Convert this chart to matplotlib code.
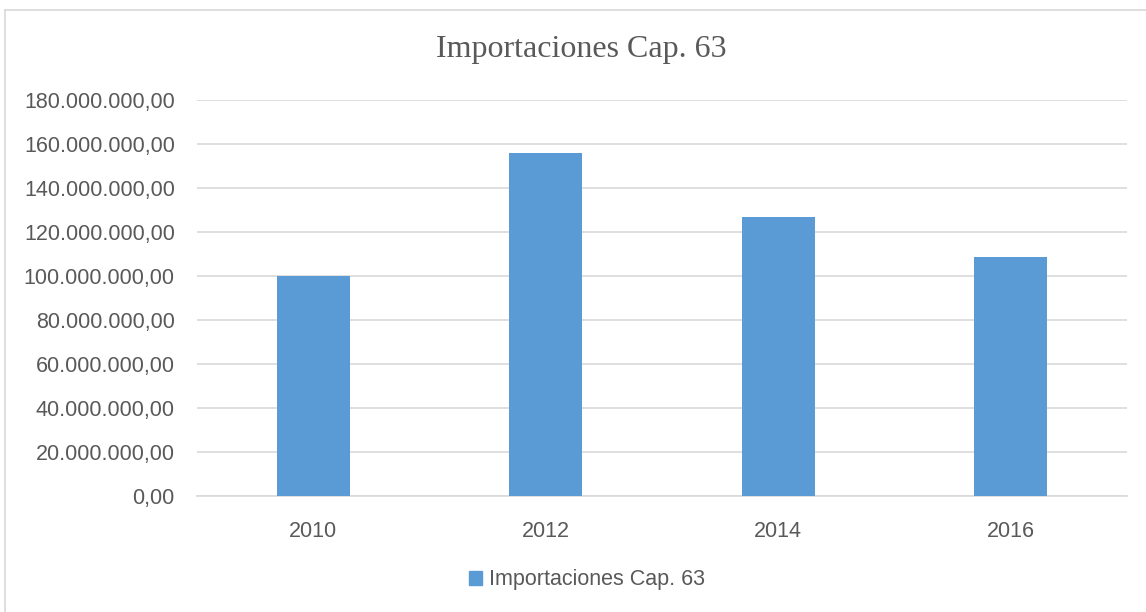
import matplotlib
matplotlib.use("Agg")
import matplotlib.pyplot as plt
from matplotlib.ticker import FuncFormatter
from matplotlib.patches import Rectangle
from matplotlib.lines import Line2D

years = ["2010", "2012", "2014", "2016"]
values = [100200000, 155900000, 126700000, 108600000]
series_name = "Importaciones Cap. 63"
title = "Importaciones Cap. 63"

fig = plt.figure(figsize=(11.46, 6.12), dpi=100)
ax = fig.add_axes([197/1146, 1-496/612, (1127-197)/1146, (496-100)/612])

x = list(range(len(years)))
ax.bar(x, values, width=0.315, color="#5B9BD5", zorder=3, label=series_name)
ax.set_xlim(-0.5, len(years)-0.5)
ax.set_ylim(0, 180000000)
ax.set_yticks([i*20000000 for i in range(10)])

def fmt(v, pos):
    s = f"{v:,.2f}"
    return s.replace(",", "X").replace(".", ",").replace("X", ".")
ax.yaxis.set_major_formatter(FuncFormatter(fmt))
ax.set_xticks(x)
ax.set_xticklabels(years)

ax.grid(axis="y", color="#d9d9d9", linewidth=1.2, zorder=0)
for s in ["top", "right", "left"]:
    ax.spines[s].set_visible(False)
ax.spines["bottom"].set_color("#d9d9d9")
ax.spines["bottom"].set_linewidth(1.2)
ax.tick_params(axis="both", length=0, colors="#595959", labelsize=15.5)
ax.tick_params(axis="y", pad=16)
ax.tick_params(axis="x", pad=18)
for lab in ax.get_xticklabels() + ax.get_yticklabels():
    lab.set_family("Liberation Sans")

fig.text(581/1146, 1-50/612, title, ha="center", va="center",
         family="Liberation Serif", fontsize=23, color="#595959")

handle = Rectangle((0, 0), 1, 1, color="#5B9BD5")
leg = fig.legend([handle], [series_name], loc="center", bbox_to_anchor=(587/1146, 1-580/612),
                 frameon=False, prop={"family": "Liberation Sans", "size": 15.5},
                 handlelength=0.6, handleheight=0.6, handletextpad=0.3)
for t in leg.get_texts():
    t.set_color("#595959")

# outer chart border (top and left visible)
fig.add_artist(Line2D([5/1146, 1], [1-10/612, 1-10/612], color="#d9d9d9", lw=1.2, transform=fig.transFigure))
fig.add_artist(Line2D([5/1146, 5/1146], [0, 1-10/612], color="#d9d9d9", lw=1.2, transform=fig.transFigure))

fig.savefig("out.png", dpi=100)
